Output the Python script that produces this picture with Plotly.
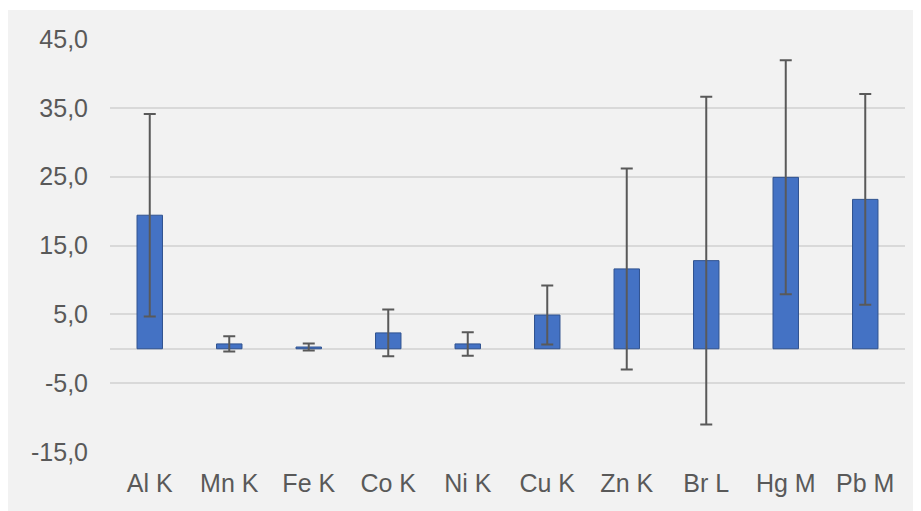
import plotly.graph_objects as go

categories = ["Al K", "Mn K", "Fe K", "Co K", "Ni K", "Cu K", "Zn K", "Br L", "Hg M", "Pb M"]
values = [19.4, 0.7, 0.25, 2.3, 0.7, 4.9, 11.6, 12.8, 24.9, 21.7]
errors = [14.7, 1.1, 0.5, 3.4, 1.7, 4.3, 14.6, 23.8, 17.0, 15.3]
tick_vals = [-15, -5, 5, 15, 25, 35, 45]
tick_text = [f"{v:.1f}".replace(".", ",") for v in tick_vals]

fig = go.Figure()
fig.add_trace(go.Bar(
    x=categories, y=values,
    marker=dict(color="#4472C4", line=dict(color="#2F528F", width=1)),
    error_y=dict(type="data", array=errors, visible=True,
                 color="#595959", thickness=2, width=6),
    width=0.32,
))

# thin white strip at the very top (reference background starts a bit lower)
fig.add_shape(type="rect", xref="paper", yref="paper",
              x0=-0.3, x1=1.1, y0=(444 - 2) / 413, y1=1.2,
              fillcolor="white", line=dict(width=0), layer="above")

fig.update_layout(
    width=913, height=503,
    margin=dict(l=102, r=16, t=31, b=59),
    paper_bgcolor="#F2F2F2", plot_bgcolor="#F2F2F2",
    showlegend=False,
    font=dict(family="Liberation Sans, Arial, sans-serif", size=25, color="#595959"),
)
fig.update_xaxes(showgrid=False, showline=False, ticks="", ticklabelstandoff=14)
fig.update_yaxes(range=[-15, 45], tickvals=tick_vals, ticktext=tick_text,
                 showgrid=True, gridcolor="#D9D9D9", gridwidth=2,
                 zeroline=True, zerolinecolor="#D9D9D9", zerolinewidth=2,
                 showline=False, ticks="", ticklabelstandoff=21)

fig.write_html("out.html")
